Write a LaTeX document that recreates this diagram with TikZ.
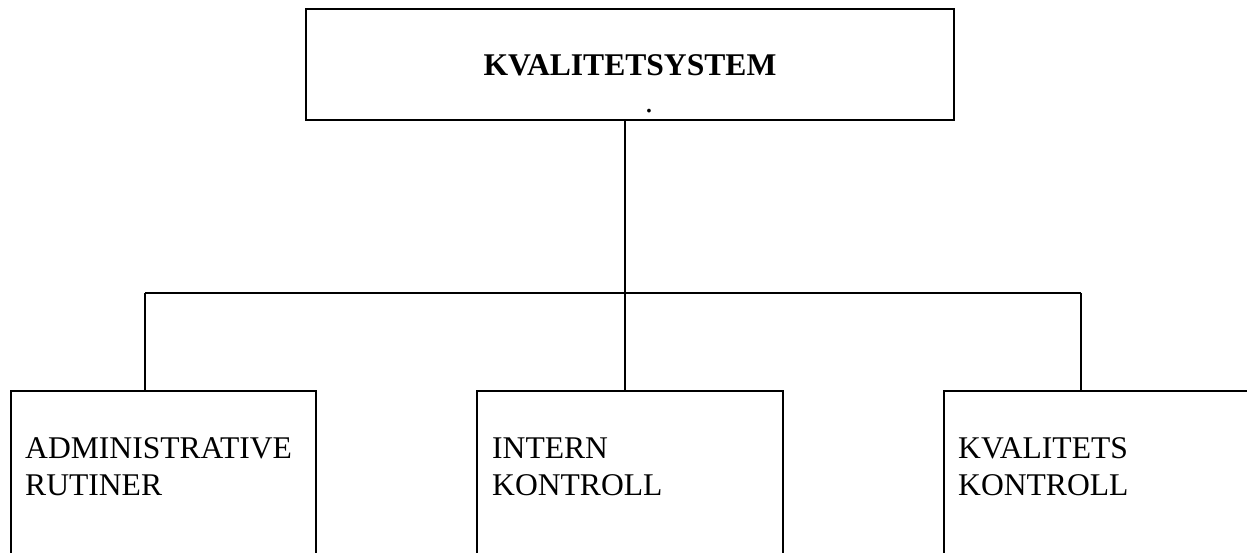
\documentclass[tikz,border=0pt]{standalone}
\usepackage{fontspec}
\setmainfont{Liberation Serif}
\begin{document}
\begin{tikzpicture}[x=1pt,y=-1pt,
  box/.style={draw=black,line width=2.2pt,fill=none,inner sep=0pt,outer sep=0pt},
  conn/.style={draw=black,line width=1.6pt},
  lbl/.style={anchor=base west,inner sep=0pt,align=left,font=\fontsize{31.6}{37}\selectfont},
  ttl/.style={anchor=base,inner sep=0pt,font=\fontsize{31.6}{37}\selectfont\bfseries}]
\clip (0,0) rectangle (1247,552);
\fill[white] (0,0) rectangle (1247,552);
% top box
\node[box,minimum width=648pt,minimum height=111pt] (top) at (630,64.5) {};
\node[ttl] (title) at (630,75) {KVALITETSYSTEM};
\node[anchor=base,inner sep=0pt,font=\fontsize{31.6}{37}\selectfont] (dot) at (649,112) {.};
% bottom boxes (run past lower edge)
\node[box,anchor=north west,minimum width=305pt,minimum height=200pt] (adm) at (11,391) {};
\node[box,anchor=north west,minimum width=306pt,minimum height=200pt] (int) at (477,391) {};
\node[box,anchor=north west,minimum width=340pt,minimum height=200pt] (kva) at (944,391) {};
\node[lbl] (admt) at (25,495) {ADMINISTRATIVE\\RUTINER};
\node[lbl] (intt) at (492,495) {INTERN\\KONTROLL};
\node[lbl] (kvat) at (958,495) {KVALITETS\\KONTROLL};
% connectors
\coordinate (j) at (625,293);
\coordinate (jl) at (145,293);
\coordinate (jr) at (1081,293);
\draw[conn] (j |- top.south) -- (j);
\draw[conn] (jl) -- (jr);
\draw[conn] (jl) -- (jl |- adm.north);
\draw[conn] (j) -- (j |- int.north);
\draw[conn] (jr) -- (jr |- kva.north);
\end{tikzpicture}
\end{document}
